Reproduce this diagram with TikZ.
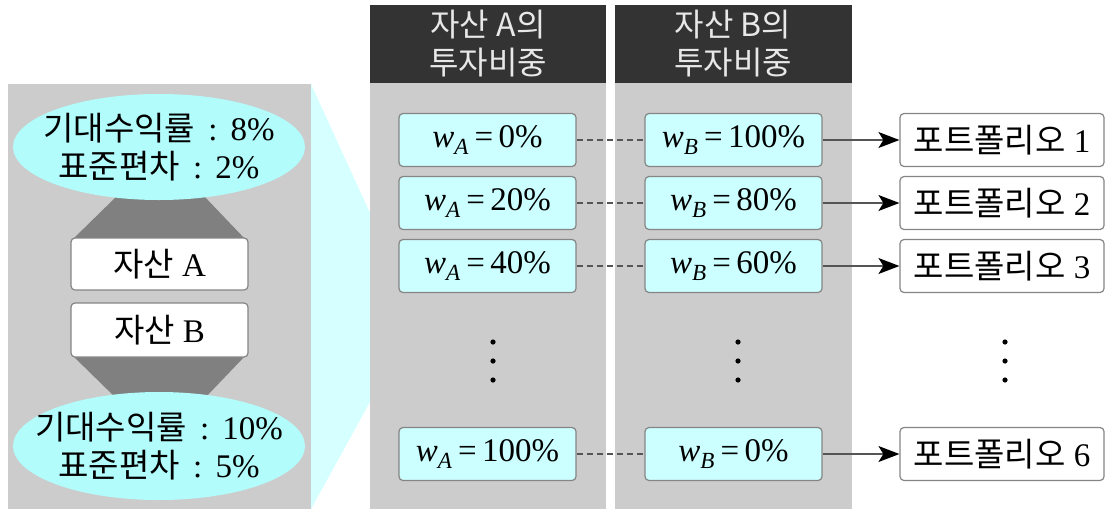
\documentclass[tikz,border=0pt]{standalone}
\usepackage{fontspec}
\setmainfont{Liberation Serif}
\newfontfamily\kr{Noto Sans CJK KR}
\usetikzlibrary{shapes.geometric,arrows.meta}
\definecolor{panel}{HTML}{CCCCCC}
\definecolor{hdr}{HTML}{333333}
\definecolor{hdrtext}{HTML}{E8E8E8}
\definecolor{ellcol}{HTML}{B2FCFC}
\definecolor{boxfill}{HTML}{CCFFFF}
\definecolor{zoomcol}{HTML}{D6FFFF}
\definecolor{boxline}{HTML}{858585}
\definecolor{trap}{HTML}{808080}
\definecolor{lin}{HTML}{555555}
\tikzset{
  txt/.style={font=\fontsize{33}{38}\selectfont},
  wbox/.style={txt, draw=boxline, fill=boxfill, rounded corners=4pt, line width=1.2pt,
    minimum width=177pt, minimum height=53pt, inner sep=0pt},
  pbox/.style={txt, draw=boxline, fill=white, rounded corners=4pt, line width=1.2pt,
    minimum width=204pt, minimum height=53pt, inner sep=0pt},
  abox/.style={txt, draw=boxline, fill=white, rounded corners=4pt, line width=1.2pt,
    minimum width=177pt, minimum height=53pt, inner sep=0pt},
  ell/.style={ellipse, fill=ellcol, minimum width=292pt, minimum height=106pt, inner sep=0pt},
  elltxt/.style={txt, align=center, inner sep=0pt},
  hdrtxt/.style={text=hdrtext, align=center, font=\kr\fontsize{32}{38}\selectfont},
  dash line/.style={draw=lin, line width=1.3pt, dash pattern=on 6pt off 4pt},
  arr/.style={draw=lin, line width=1.3pt, -{Stealth[length=21pt,width=16pt,inset=5pt,color=black]}},
  dot/.style={fill=black}
}
\newcommand{\wv}[2]{\textit{w}\textsubscript{\textit{#1}}\,=\,#2\%}
\newcommand{\cln}{\hspace{0.4em}:\hspace{0.4em}}
\begin{document}
\begin{tikzpicture}[x=1pt,y=-1pt]
\useasboundingbox (0,0) rectangle (1107,509);
% left panel
\fill[panel] (8,84) rectangle (311,509);
% zoom trapezoid
\fill[zoomcol] (311,84) -- (370,213) -- (370,402) -- (311,509) -- cycle;
% columns
\fill[hdr] (370,5) rectangle (606,83);
\fill[panel] (370,83) rectangle (606,509);
\fill[hdr] (615,5) rectangle (852,83);
\fill[panel] (615,83) rectangle (852,509);
% dark trapezoids
\fill[trap] (118,195) -- (203,195) -- (246,240) -- (72,240) -- cycle;
\fill[trap] (72,355) -- (246,355) -- (203,400) -- (118,400) -- cycle;
% left nodes
\node[ell] (e1) at (159,147) {};
\node[elltxt] (t1) at (e1.center) {{\kr 기대수익률}\cln 8\%\\{\kr 표준편차}\cln 2\%};
\node[ell, minimum height=108pt] (e2) at (159,446) {};
\node[elltxt] (t2) at (e2.center) {{\kr 기대수익률}\cln 10\%\\{\kr 표준편차}\cln 5\%};
\node[abox, minimum height=52pt] (sa) at (159.5,264) {{\kr 자산} A};
\node[abox, minimum height=54pt] (sb) at (159.5,330) {{\kr 자산} B};
% headers
\node[hdrtxt] (ha) at (488,44) {자산 A의\\투자비중};
\node[hdrtxt] (hb) at (733,44) {자산 B의\\투자비중};
% rows
\node[wbox] (a1) at (487.5,140) {\wv{A}{0}};
\node[wbox] (a2) at (487.5,203) {\wv{A}{20}};
\node[wbox] (a3) at (487.5,266) {\wv{A}{40}};
\node[wbox] (a6) at (487.5,454) {\wv{A}{100}};
\node[wbox] (b1) at (733.5,140) {\wv{B}{100}};
\node[wbox] (b2) at (733.5,203) {\wv{B}{80}};
\node[wbox] (b3) at (733.5,266) {\wv{B}{60}};
\node[wbox] (b6) at (733.5,454) {\wv{B}{0}};
\node[pbox] (p1) at (1002,140) {{\kr 포트폴리오} 1};
\node[pbox] (p2) at (1002,203) {{\kr 포트폴리오} 2};
\node[pbox] (p3) at (1002,266) {{\kr 포트폴리오} 3};
\node[pbox] (p6) at (1002,454) {{\kr 포트폴리오} 6};
% connectors
\foreach \i in {1,2,3,6}{
  \draw[dash line] (a\i.east) -- (b\i.west);
  \draw[arr] (b\i.east) -- (p\i.west);
}
% dots
\foreach \x in {493,738,1005}{
  \foreach \y in {342,361,380}{
    \fill[dot] (\x,\y) circle (2.6pt);
  }
}
\end{tikzpicture}
\end{document}
